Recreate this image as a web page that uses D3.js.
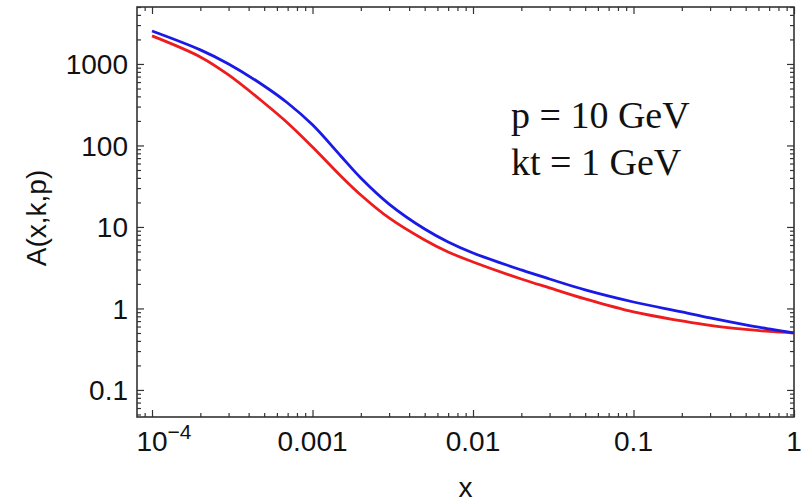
<!DOCTYPE html>
<html>
<head>
<meta charset="utf-8">
<script src="https://cdn.jsdelivr.net/npm/d3@7"></script>
<style>
  body { margin: 0; background: #fff; }
  svg text { font-family: "Liberation Sans", Arial, sans-serif; fill: #111; }
</style>
</head>
<body>
<div id="chart"></div>
<script>
// data
const xs = [1e-4, 2e-4, 3e-4, 5e-4, 7e-4, 1e-3, 1.5e-3, 2e-3, 3e-3, 5e-3, 7e-3,
            0.01, 0.02, 0.03, 0.05, 0.1, 0.2, 0.3, 0.5, 0.7, 1];
const blueVals = [2540, 1490, 1000, 537, 332, 179, 74.3, 39.9, 19.1, 9.44, 6.55,
                  4.80, 2.97, 2.30, 1.69, 1.20, 0.906, 0.764, 0.628, 0.560, 0.500];
const redVals = [2210, 1220, 733, 332, 189, 95.9, 42.3, 24.7, 12.9, 6.92, 4.93,
                 3.72, 2.30, 1.79, 1.31, 0.906, 0.703, 0.618, 0.552, 0.522, 0.500];

const xMajor = [1e-4, 1e-3, 1e-2, 1e-1, 1];
const xLabels = ["10", "0.001", "0.01", "0.1", "1"];
const yMajor = [0.1, 1, 10, 100, 1000];
const yLabels = ["0.1", "1", "10", "100", "1000"];
const notes = ["p = 10 GeV", "kt = 1 GeV"];

const W = 810, H = 502;
const m = { left: 137, right: 794, top: 7, bottom: 417 };

const svg = d3.select("#chart").append("svg")
    .attr("width", W).attr("height", H);

// x runs a bit past 1e-4 on the left, y from ~0.047 to 5000
const x = d3.scaleLog().domain([Math.pow(10, -4.0935), 1]).range([m.left, m.right]);
const y = d3.scaleLog().domain([Math.pow(10, -1.332), 5000]).range([m.bottom, m.top]);

// minor ticks, 2..9 in every decade that fits
function minors(scale) {
    const [a, b] = scale.domain();
    const out = [];
    for (let e = Math.floor(Math.log10(a)); e <= Math.ceil(Math.log10(b)); e++) {
        for (let k = 2; k <= 9; k++) {
            const v = k * Math.pow(10, e);
            if (v >= a && v <= b) out.push(v);
        }
    }
    return out;
}

const axisColor = "#333";
const majorLen = 7, minorLen = 4;

function frameAxis(gen, transform, vals, len) {
    const g = svg.append("g").attr("transform", transform)
        .call(gen.tickValues(vals).tickSize(len).tickFormat(""));
    g.selectAll("line").attr("stroke", axisColor).attr("stroke-width", 1.2);
    g.select(".domain").remove();
    return g;
}

// inward ticks on all four sides
frameAxis(d3.axisTop(x), `translate(0,${m.bottom})`, xMajor, majorLen);
frameAxis(d3.axisTop(x), `translate(0,${m.bottom})`, minors(x), minorLen);
frameAxis(d3.axisBottom(x), `translate(0,${m.top})`, xMajor, majorLen);
frameAxis(d3.axisBottom(x), `translate(0,${m.top})`, minors(x), minorLen);
frameAxis(d3.axisRight(y), `translate(${m.left},0)`, yMajor, majorLen);
frameAxis(d3.axisRight(y), `translate(${m.left},0)`, minors(y), minorLen);
frameAxis(d3.axisLeft(y), `translate(${m.right},0)`, yMajor, majorLen);
frameAxis(d3.axisLeft(y), `translate(${m.right},0)`, minors(y), minorLen);

svg.append("rect")
    .attr("x", m.left).attr("y", m.top)
    .attr("width", m.right - m.left).attr("height", m.bottom - m.top)
    .attr("fill", "none").attr("stroke", axisColor).attr("stroke-width", 1.6);

// tick labels
svg.selectAll(".ylab").data(yMajor).join("text")
    .attr("class", "ylab")
    .attr("x", m.left - 9).attr("y", d => y(d))
    .attr("dy", "0.36em")
    .attr("text-anchor", "end")
    .style("font-size", "28px")
    .text((d, i) => yLabels[i]);

const xl = svg.selectAll(".xlab").data(xMajor).join("text")
    .attr("class", "xlab")
    .attr("x", d => x(d)).attr("y", 451)
    .attr("text-anchor", "middle")
    .style("font-size", "28px");
xl.append("tspan").text((d, i) => xLabels[i]);
xl.filter((d, i) => i === 0).append("tspan")
    .attr("dy", -12).style("font-size", "21px").text("\u22124");
xl.filter((d, i) => i === 0).attr("x", d => x(d) + 12);

// axis titles
svg.append("text")
    .attr("transform", `translate(46,218) rotate(-90)`)
    .attr("text-anchor", "middle")
    .style("font-size", "28px")
    .text("A(x,k,p)");
svg.append("text")
    .attr("x", (m.left + m.right) / 2).attr("y", 497)
    .attr("text-anchor", "middle")
    .style("font-size", "28px")
    .text("x");

// curves
const line = d3.line()
    .x(d => x(d[0])).y(d => y(d[1]))
    .curve(d3.curveCatmullRom.alpha(0.5));

svg.append("path")
    .datum(xs.map((v, i) => [v, redVals[i]]))
    .attr("d", line)
    .attr("fill", "none").attr("stroke", "#ee1c1c").attr("stroke-width", 2.8);
svg.append("path")
    .datum(xs.map((v, i) => [v, blueVals[i]]))
    .attr("d", line)
    .attr("fill", "none").attr("stroke", "#1a1ae6").attr("stroke-width", 2.8);

// annotation
svg.selectAll(".note").data(notes).join("text")
    .attr("class", "note")
    .attr("x", 511).attr("y", (d, i) => 128 + i * 47)
    .style("font-family", "'Liberation Serif', 'Times New Roman', serif")
    .style("font-size", "38px")
    .text(d => d);
</script>
</body>
</html>
